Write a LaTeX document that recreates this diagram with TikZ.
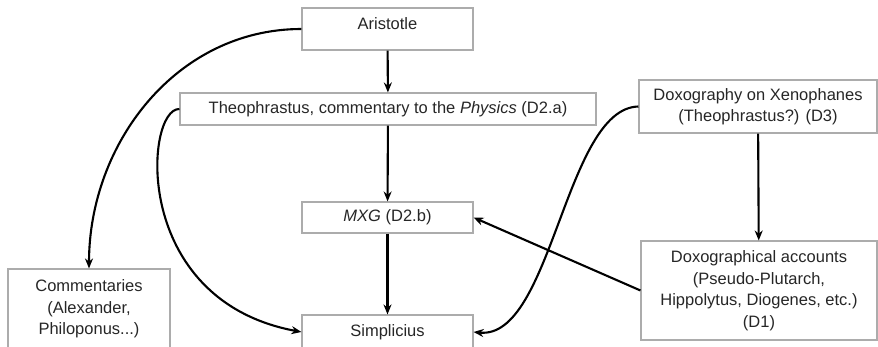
\documentclass[tikz,border=0pt]{standalone}
\usepackage{fontspec}
\setmainfont{Liberation Sans}
\usetikzlibrary{arrows.meta}
\begin{document}
\begin{tikzpicture}[x=1pt,y=-1pt,line width=2.1pt,
    >={Stealth[length=10pt,width=8pt]},
    box/.style={draw=gray!65,line width=1.1pt,align=center,inner sep=2pt,
      text=black!85,font=\fontsize{16.5}{21.5}\selectfont}]
    \useasboundingbox (0,0) rectangle (878,347);
    \node (arist) [box,minimum width=171pt,minimum height=42pt,text depth=10pt] at (387.5,29) {Aristotle};
    \node (theo) [box,minimum width=416pt,minimum height=32pt] at (388,109) {Theophrastus, commentary to the \textit{Physics} (D2.a)};
    \node (xeno) [box,minimum width=238pt,minimum height=53pt] at (758,106.5) {Doxography on Xenophanes\\(Theophrastus?) (D3)};
    \node (mxg) [box,minimum width=171pt,minimum height=31pt] at (387.5,217.5) {\textit{MXG} (D2.b)};
    \node (simp) [box,minimum width=171pt,minimum height=34pt] at (387.5,332) {Simplicius};
    \node (comm) [box,minimum width=162pt,minimum height=80pt] at (89,309) {Commentaries\\(Alexander,\\Philoponus...)};
    \node (doxo) [box,minimum width=236pt,minimum height=99pt] at (759,290.5) {Doxographical accounts\\(Pseudo-Plutarch,\\Hippolytus, Diogenes, etc.)\\(D1)};

    \draw[->] (arist) -- (theo);
    \draw[->] (theo) -- (mxg);
    \draw[->] (mxg) -- (simp);
    \draw[->] (xeno) -- (doxo);
    \draw[->] (doxo.west) -- (mxg.east);
    \draw[->] (arist.west) to[out=180,in=90] (comm.north);
    \draw[->] (theo.west) .. controls (145,108) and (130,300) .. (simp.west);
    \draw[->] (xeno.west) .. controls (565,108) and (552,340) .. (simp.east);
  \end{tikzpicture}
\end{document}
